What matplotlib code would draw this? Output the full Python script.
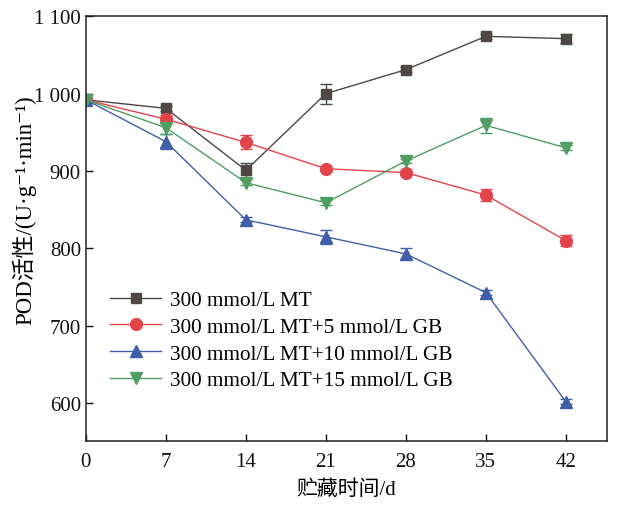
import matplotlib
matplotlib.use("Agg")
from matplotlib import pyplot as plt
import numpy as np

plt.rcParams['font.family'] = ['Liberation Serif', 'Noto Sans CJK SC', 'DejaVu Sans']

days = [0, 7, 14, 21, 28, 35, 42]

mt = [992, 981, 901, 1000, 1031, 1074, 1071]
mt_err = [4, 3, 10, 13, 3, 3, 6]

gb5 = [992, 967, 937, 903, 898, 869, 810]
gb5_err = [3, 5, 9, 3, 3, 8, 7]

gb10 = [992, 938, 837, 815, 793, 743, 602]
gb10_err = [3, 10, 3, 9, 7, 3, 3]

gb15 = [992, 956, 885, 859, 913, 959, 930]
gb15_err = [3, 8, 3, 3, 3, 10, 3]

labels = ["300 mmol/L MT",
          "300 mmol/L MT+5 mmol/L GB",
          "300 mmol/L MT+10 mmol/L GB",
          "300 mmol/L MT+15 mmol/L GB"]

fig = plt.figure(figsize=(6.22, 5.06), dpi=100)
ax = fig.add_axes([0.138, 0.126, 0.838, 0.84])

series = [
    (mt, mt_err, "#504646", "s", 7.5),
    (gb5, gb5_err, "#e3444b", "o", 8.5),
    (gb10, gb10_err, "#3f5fa8", "^", 8.5),
    (gb15, gb15_err, "#4f9e63", "v", 8.5),
]
for (vals, err, c, m, ms), lab in zip(series, labels):
    ax.errorbar(days, vals, yerr=err, color=c, marker=m, markersize=ms,
                linewidth=1.0, capsize=4, elinewidth=1.0, capthick=1.0,
                label=lab)

ax.set_xlim(0, 45.6)
ax.set_ylim(551, 1100)
ax.set_xticks(days)
ax.set_yticks([600, 700, 800, 900, 1000, 1100])
ax.set_yticklabels(["600", "700", "800", "900", "1 000", "1 100"])
ax.tick_params(direction="in", length=5, width=1, labelsize=15, colors="#111111")
ax.tick_params(axis="x", pad=8)
for s in ax.spines.values():
    s.set_linewidth(1.1)
    s.set_color("#222222")

ax.set_xlabel("贮藏时间/d", fontsize=15, labelpad=6)
ax.set_ylabel("POD活性/(U·g⁻¹·min⁻¹)", fontsize=16.5)
ax.yaxis.set_label_coords(-0.095, 0.545)

handles, labs = ax.get_legend_handles_labels()
handles = [h[0] for h in handles]
ax.legend(handles, labs, loc="lower left", bbox_to_anchor=(0.01, 0.075),
          frameon=False, fontsize=15.3, handlelength=2.4, labelspacing=0.32,
          handletextpad=0.4)

fig.savefig("out.png", dpi=100)
